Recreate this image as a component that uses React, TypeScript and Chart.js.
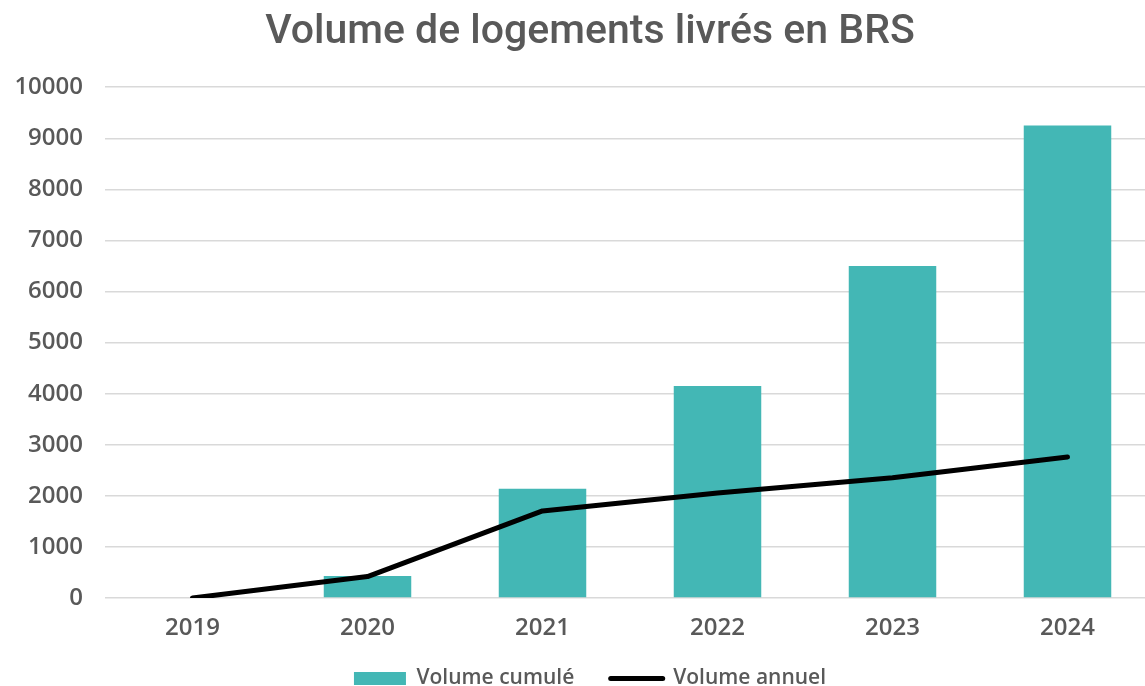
import React, { useEffect, useRef } from "react";
import { Chart, registerables } from "chart.js";

Chart.register(...registerables);

const years = ["2019", "2020", "2021", "2022", "2023", "2024"];
const cumulative = [0, 430, 2140, 4150, 6500, 9250];
const annual = [0, 420, 1705, 2055, 2355, 2760];
const yTicks = [0, 1000, 2000, 3000, 4000, 5000, 6000, 7000, 8000, 9000, 10000];

const TEAL = "#43B7B5";
const TEXT = "#595959";
const TICK_FONT = "'Open Sans', sans-serif";

export default function App() {
  const ref = useRef<HTMLCanvasElement | null>(null);

  useEffect(() => {
    if (!ref.current) return;
    const chart = new Chart(ref.current, {
      type: "bar",
      data: {
        labels: years,
        datasets: [
          {
            type: "bar",
            label: "Volume cumulé",
            data: cumulative,
            backgroundColor: TEAL,
            borderWidth: 0,
            categoryPercentage: 1,
            barPercentage: 0.5,
            order: 1,
          },
          {
            type: "line",
            label: "Volume annuel",
            data: annual,
            borderColor: "#000000",
            backgroundColor: "#000000",
            borderWidth: 5,
            borderCapStyle: "round",
            borderJoinStyle: "round",
            pointRadius: 0,
            tension: 0,
            order: 0,
          } as any,
        ],
      },
      options: {
        responsive: false,
        animation: false,
        layout: { padding: 0 },
        plugins: {
          tooltip: { enabled: false },
          title: {
            display: true,
            text: "Volume de logements livrés en BRS",
            color: TEXT,
            font: { family: "Roboto, sans-serif", size: 41, weight: "500", lineHeight: 1.2 },
            padding: { top: 8, bottom: 30 },
          },
          legend: {
            position: "bottom",
            labels: {
              color: TEXT,
              font: { family: TICK_FONT, size: 21, weight: "600" },
              usePointStyle: true,
              pointStyleWidth: 52,
              boxHeight: 13,
              padding: 31,
              generateLabels: (c: any) =>
                c.data.datasets.map((ds: any, i: number) => ({
                  text: i === 0 ? ds.label + "\u00a0" : ds.label,
                  fillStyle: i === 0 ? TEAL : "#000000",
                  strokeStyle: i === 0 ? TEAL : "#000000",
                  lineWidth: i === 0 ? 0 : 5,
                  lineCap: "round",
                  pointStyle: i === 0 ? "rect" : "line",
                  fontColor: TEXT,
                  hidden: false,
                  datasetIndex: i,
                })),
            },
          },
        },
        scales: {
          x: {
            grid: { display: false },
            border: { display: false },
            afterFit: (s: any) => {
              s.height = 39;
            },
            ticks: {
              color: TEXT,
              font: { family: TICK_FONT, size: 24, weight: "600" },
              padding: 8,
            },
          },
          y: {
            min: 0,
            max: 10000,
            afterFit: (s: any) => {
              s.width = 105;
            },
            afterBuildTicks: (s: any) => {
              s.ticks = yTicks.map((v) => ({ value: v }));
            },
            grid: { color: "#d9d9d9", lineWidth: 1.5, drawTicks: false },
            border: { display: false },
            ticks: {
              color: TEXT,
              font: { family: TICK_FONT, size: 24, weight: "600" },
              padding: 22,
              callback: (v: any) => String(v),
            },
          },
          yRight: {
            position: "right",
            min: 0,
            max: 10000,
            afterFit: (s: any) => {
              s.width = 25;
            },
            grid: { display: false, drawTicks: false },
            border: { display: false },
            ticks: { display: false },
          },
        },
      },
    });
    return () => chart.destroy();
  }, []);

  return (
    <div
      style={{
        position: "fixed",
        left: 0,
        top: 0,
        width: 1145,
        height: 686,
        overflow: "hidden",
        background: "#ffffff",
      }}
    >
      <canvas ref={ref} width={1180} height={699} style={{ width: 1180, height: 699, display: "block" }} />
    </div>
  );
}
